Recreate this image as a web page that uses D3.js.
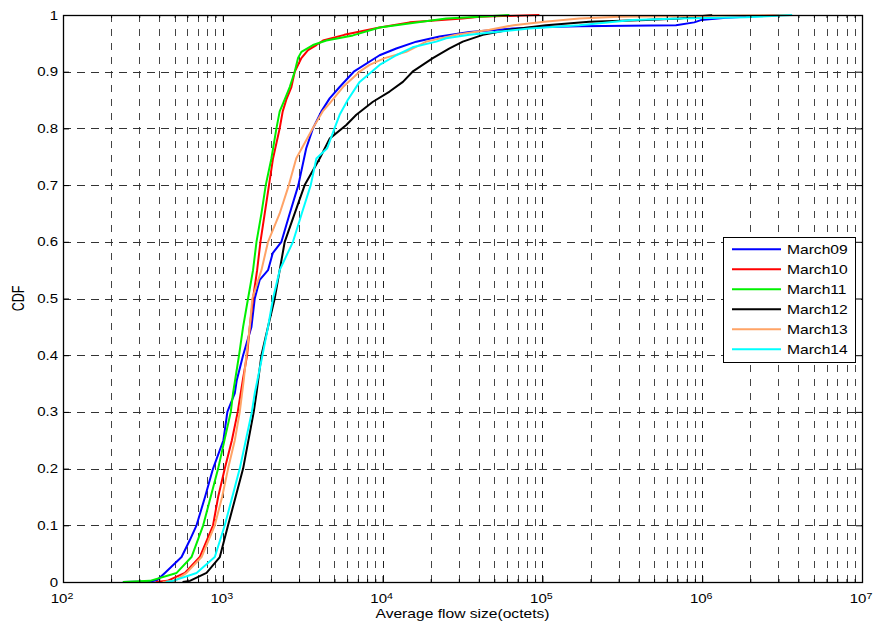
<!DOCTYPE html>
<html>
<head>
<meta charset="utf-8">
<script src="https://cdn.jsdelivr.net/npm/d3@7"></script>
<style>
  body { margin: 0; background: #fff; }
  svg { display: block; }
  text { font-family: "Liberation Sans", Arial, Helvetica, sans-serif; fill: #000; }
</style>
</head>
<body>
<svg id="chart" width="873" height="624"></svg>
<script>
// Empirical CDFs of the average flow size per day: [octets, cumulative fraction]
const march09 = [[237,0],[350,0.001],[387,0.003],[434,0.016],[552,0.044],[622,0.074],[685,0.1],[774,0.15],[869,0.2],[1009,0.25],[1068,0.3],[1189,0.333],[1223,0.356],[1340,0.4],[1511,0.45],[1585,0.5],[1703,0.533],[1919,0.55],[2054,0.58],[2327,0.6],[2623,0.65],[2970,0.7],[3327,0.765],[3666,0.8],[4138,0.83],[4663,0.853],[5385,0.873],[6600,0.9],[9576,0.929],[12180,0.941],[16250,0.953],[22710,0.962],[34990,0.97],[64940,0.976],[105400,0.979],[170300,0.98],[685500,0.982],[891300,0.987],[981700,0.991],[1406000,0.995],[3027000,1]];
const march10 = [[380,0],[450,0.002],[579,0.016],[718,0.044],[869,0.1],[935,0.15],[1029,0.2],[1140,0.25],[1240,0.3],[1334,0.356],[1419,0.4],[1475,0.45],[1546,0.5],[1640,0.55],[1720,0.6],[1830,0.65],[1946,0.7],[2062,0.747],[2270,0.8],[2371,0.83],[2500,0.851],[2687,0.873],[2818,0.9],[3103,0.924],[3414,0.938],[3852,0.947],[4236,0.955],[5760,0.965],[9576,0.978],[14750,0.987],[31620,0.994],[40370,0.997],[95770,1]];
const march11 = [[237,0],[350,0.002],[514,0.016],[637,0.044],[754,0.1],[935,0.2],[1122,0.3],[1159,0.333],[1264,0.4],[1340,0.45],[1439,0.5],[1546,0.55],[1625,0.6],[1745,0.65],[1857,0.7],[2014,0.747],[2166,0.8],[2270,0.83],[2441,0.851],[2623,0.873],[2818,0.9],[2957,0.924],[3103,0.935],[3666,0.947],[4446,0.955],[6520,0.964],[9576,0.978],[15400,0.986],[25010,0.994],[40370,0.997],[62200,1]];
const march12 = [[560,0],[622,0.002],[791,0.016],[958,0.044],[1079,0.1],[1340,0.2],[1562,0.3],[1625,0.333],[1745,0.4],[1919,0.45],[2113,0.5],[2270,0.55],[2441,0.6],[2818,0.65],[3254,0.7],[4039,0.747],[4663,0.782],[5927,0.806],[6849,0.824],[8700,0.847],[11060,0.865],[13400,0.882],[15400,0.9],[20620,0.924],[26230,0.941],[31770,0.953],[42370,0.965],[62200,0.974],[105400,0.982],[196600,0.988],[444600,0.991],[718000,0.994],[1155000,1]];
const march13 = [[420,0],[500,0.002],[593,0.016],[736,0.044],[891,0.1],[990,0.15],[1079,0.2],[1189,0.25],[1277,0.3],[1352,0.356],[1405,0.4],[1475,0.45],[1530,0.5],[1745,0.55],[1919,0.6],[2270,0.65],[2590,0.7],[2880,0.747],[3650,0.8],[4217,0.83],[4663,0.844],[5649,0.873],[7180,0.9],[8291,0.912],[10300,0.924],[14060,0.935],[18760,0.953],[28890,0.965],[46650,0.974],[66000,0.982],[103000,0.988],[170300,0.994],[302700,0.997],[3652000,1]];
const march14 = [[440,0],[487,0.002],[685,0.016],[891,0.044],[1029,0.1],[1277,0.2],[1520,0.3],[1585,0.333],[1770,0.4],[1919,0.45],[2062,0.5],[2270,0.55],[2749,0.6],[3120,0.65],[3550,0.7],[3852,0.747],[4500,0.765],[5000,0.8],[5385,0.824],[6050,0.85],[7180,0.882],[9576,0.912],[12180,0.929],[15400,0.943],[21660,0.953],[25010,0.959],[34990,0.965],[51380,0.97],[82910,0.976],[170300,0.982],[365200,0.991],[718000,0.994],[1875000,0.996],[3652000,1]];

const seriesNames  = ["March09", "March10", "March11", "March12", "March13", "March14"];
const seriesColors = ["#0000ff", "#ff0000", "#00f000", "#000000", "#ffa366", "#00ffff"];
const seriesData   = [march09, march10, march11, march12, march13, march14];

const xTickValues    = [1e2, 1e3, 1e4, 1e5, 1e6, 1e7];
const xTickExponents = ["2", "3", "4", "5", "6", "7"];
const yTickValues    = [0, 0.1, 0.2, 0.3, 0.4, 0.5, 0.6, 0.7, 0.8, 0.9, 1];
const yTickLabels    = ["0", "0.1", "0.2", "0.3", "0.4", "0.5", "0.6", "0.7", "0.8", "0.9", "1"];
const xAxisTitle = "Average flow size(octets)";
const yAxisTitle = "CDF";

// ---- layout ----
const plot = { left: 63, right: 862, top: 15, bottom: 582 };
const stretch = 1.25;   // glyphs are drawn slightly wide

const svg = d3.select("#chart");
const x = d3.scaleLog().domain([1e2, 1e7]).range([plot.left, plot.right]);
const y = d3.scaleLinear().domain([0, 1]).range([plot.bottom, plot.top]);

// minor decade values 2..9 x 10^k
const minorValues = [];
for (let k = 2; k < 7; k++) for (let m = 2; m <= 9; m++) minorValues.push(m * Math.pow(10, k));

// ---- grid ----
const grid = svg.append("g").attr("class", "grid");
grid.selectAll("line.vminor").data(minorValues).join("line")
  .attr("x1", d => Math.round(x(d)) + 0.5).attr("x2", d => Math.round(x(d)) + 0.5)
  .attr("y1", plot.bottom).attr("y2", plot.top)
  .attr("stroke", "#444").attr("stroke-width", 1).attr("stroke-dasharray", "7,7");
grid.selectAll("line.vmajor").data(xTickValues.slice(1, -1)).join("line")
  .attr("x1", d => Math.round(x(d)) + 0.5).attr("x2", d => Math.round(x(d)) + 0.5)
  .attr("y1", plot.bottom).attr("y2", plot.top)
  .attr("stroke", "#222").attr("stroke-width", 1).attr("stroke-dasharray", "7,7");
grid.selectAll("line.h").data(yTickValues.slice(1, -1)).join("line")
  .attr("x1", plot.left).attr("x2", plot.right)
  .attr("y1", d => Math.round(y(d)) + 0.5).attr("y2", d => Math.round(y(d)) + 0.5)
  .attr("stroke", "#333").attr("stroke-width", 1).attr("stroke-dasharray", "8,6");

// ---- curves ----
svg.append("clipPath").attr("id", "plotClip").append("rect")
  .attr("x", plot.left).attr("y", plot.top - 2)
  .attr("width", plot.right - plot.left).attr("height", plot.bottom - plot.top + 2);

const line = d3.line().x(d => x(d[0])).y(d => y(d[1]));
svg.append("g").attr("clip-path", "url(#plotClip)")
  .selectAll("path").data(seriesData).join("path")
  .attr("d", line)
  .attr("fill", "none")
  .attr("stroke", (d, i) => seriesColors[i])
  .attr("stroke-width", 2)
  .attr("stroke-linejoin", "round");

// ---- ticks (inside, on all four sides) ----
function tickAxis(gen, tx, ty) {
  const g = svg.append("g").attr("transform", `translate(${tx},${ty})`).call(gen);
  g.select(".domain").remove();
  g.selectAll(".tick line").attr("stroke", "#000");
  g.selectAll(".tick text").remove();
  return g;
}
tickAxis(d3.axisBottom(x).tickValues(xTickValues).tickSize(-6).tickSizeOuter(0), 0, plot.bottom);
tickAxis(d3.axisTop(x).tickValues(xTickValues).tickSize(-6).tickSizeOuter(0), 0, plot.top);
tickAxis(d3.axisBottom(x).tickValues(minorValues).tickSize(-3).tickSizeOuter(0), 0, plot.bottom);
tickAxis(d3.axisTop(x).tickValues(minorValues).tickSize(-3).tickSizeOuter(0), 0, plot.top);
tickAxis(d3.axisLeft(y).tickValues(yTickValues).tickSize(-6).tickSizeOuter(0), plot.left, 0);
tickAxis(d3.axisRight(y).tickValues(yTickValues).tickSize(-6).tickSizeOuter(0), plot.right, 0);

// ---- axes box ----
svg.append("rect")
  .attr("x", plot.left + 0.5).attr("y", plot.top + 0.5)
  .attr("width", plot.right - plot.left).attr("height", plot.bottom - plot.top)
  .attr("fill", "none").attr("stroke", "#000").attr("stroke-width", 1.3);

// ---- tick labels ----
svg.append("g").selectAll("text").data(yTickValues).join("text")
  .attr("transform", d => `translate(58,${y(d) + 4.5}) scale(${stretch},1)`)
  .attr("text-anchor", "end").attr("font-size", 12)
  .text((d, i) => yTickLabels[i]);

const xl = svg.append("g").selectAll("text").data(xTickValues).join("text")
  .attr("transform", d => `translate(${x(d) - 1},603) scale(${stretch},1)`)
  .attr("text-anchor", "middle").attr("font-size", 12);
xl.append("tspan").text("10");
xl.append("tspan").attr("dy", -4.5).attr("font-size", 8.5).text((d, i) => xTickExponents[i]);

// ---- axis titles ----
svg.append("text")
  .attr("transform", `translate(${(plot.left + plot.right) / 2},618) scale(${stretch},1)`)
  .attr("text-anchor", "middle").attr("font-size", 12.5)
  .text(xAxisTitle);
svg.append("text")
  .attr("transform", `translate(24,${(plot.top + plot.bottom) / 2}) rotate(-90) scale(1,${stretch})`)
  .attr("text-anchor", "middle").attr("font-size", 12.5)
  .text(yAxisTitle);

// ---- legend ----
const legend = { x: 723, y: 237, w: 132, h: 125, row0: 12.3, rowStep: 20 };
const lg = svg.append("g");
lg.append("rect")
  .attr("x", legend.x + 0.5).attr("y", legend.y + 0.5)
  .attr("width", legend.w).attr("height", legend.h)
  .attr("fill", "#fff").attr("stroke", "#000").attr("stroke-width", 1);
const rows = lg.selectAll("g.row").data(seriesNames).join("g")
  .attr("transform", (d, i) => `translate(${legend.x},${legend.y + legend.row0 + i * legend.rowStep})`);
rows.append("line")
  .attr("x1", 9).attr("x2", 58).attr("y1", 0).attr("y2", 0)
  .attr("stroke", (d, i) => seriesColors[i]).attr("stroke-width", 2);
rows.append("text")
  .attr("transform", `translate(64,4.5) scale(${stretch},1)`)
  .attr("font-size", 12.5)
  .text(d => d);
</script>
</body>
</html>
